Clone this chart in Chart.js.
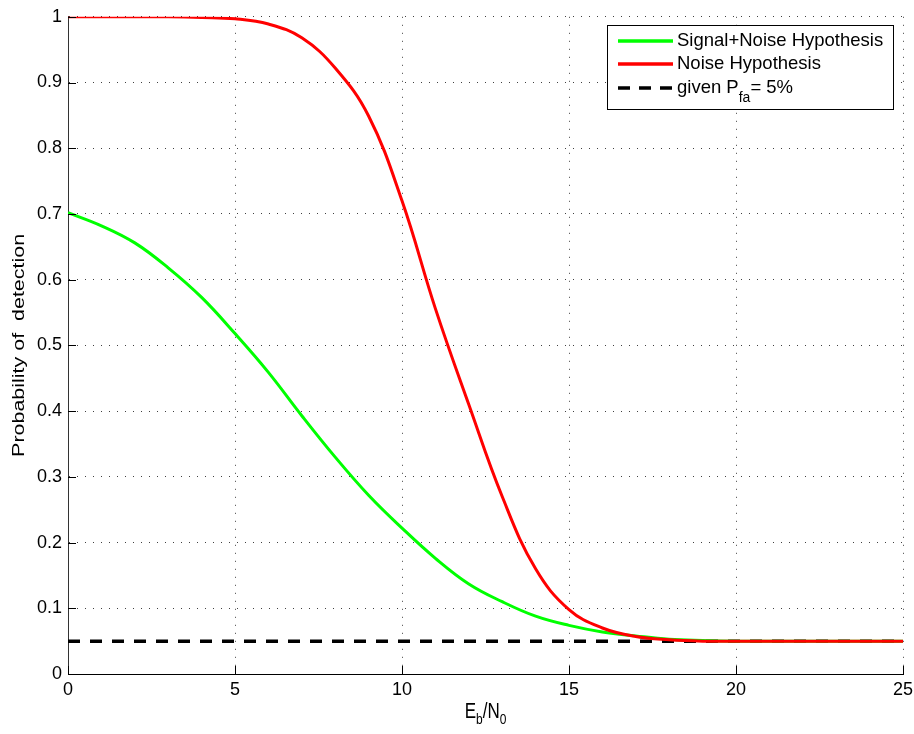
<!DOCTYPE html>
<html>
<head>
<meta charset="utf-8">
<script src="https://cdn.jsdelivr.net/npm/chart.js@4"></script>
<style>
  html, body { margin: 0; padding: 0; background: #fff; }
  #wrap { width: 914px; height: 734px; }
</style>
</head>
<body>
<div id="wrap"><canvas id="grafico" width="914" height="734"></canvas></div>
<script>
// Eb/N0 values
const ebno = [0, 1, 2, 3, 4, 5, 6, 7, 8, 9, 10, 11, 12, 13, 14, 15, 16, 17, 18, 19, 20, 21, 22, 23, 24, 25];
// probability of detection
const ruido = [1, 1, 1, 1, 0.999, 0.997, 0.989, 0.968, 0.922, 0.849, 0.72, 0.556, 0.41, 0.27, 0.16, 0.098, 0.07, 0.057, 0.052, 0.05, 0.05, 0.05, 0.05, 0.05, 0.05, 0.05];
const sinalRuido = [0.702, 0.682, 0.656, 0.618, 0.573, 0.518, 0.459, 0.393, 0.33, 0.272, 0.222, 0.176, 0.137, 0.11, 0.088, 0.074, 0.064, 0.058, 0.053, 0.051, 0.05, 0.05, 0.05, 0.05, 0.05, 0.05];
const pfa = 0.05;
const xTicks = [0, 5, 10, 15, 20, 25];
const yTicks = [0, 0.1, 0.2, 0.3, 0.4, 0.5, 0.6, 0.7, 0.8, 0.9, 1];

const fonte = "'Liberation Sans', Arial, sans-serif";

const pares = (vals) => ebno.map((x, i) => ({ x: x, y: vals[i] }));

// tick marks inside, axis titles with subscripts, legend box
const extras = {
    id: "extras",
    afterDraw(chart) {
        const ctx = chart.ctx;
        const area = chart.chartArea;
        const xs = chart.scales.x, ys = chart.scales.y;
        ctx.save();
        ctx.strokeStyle = "#000";
        ctx.lineWidth = 1;
        ctx.setLineDash([]);
        yTicks.forEach(v => {
            const y = Math.round(ys.getPixelForValue(v)) + 0.5;
            ctx.beginPath();
            ctx.moveTo(area.left, y);
            ctx.lineTo(area.left + 8, y);
            ctx.stroke();
        });
        xTicks.forEach(v => {
            const x = Math.round(xs.getPixelForValue(v)) + 0.5;
            ctx.beginPath();
            ctx.moveTo(x, area.bottom);
            ctx.lineTo(x, area.bottom - 8);
            ctx.stroke();
        });

        // y title (the picture is a bit stretched vertically)
        ctx.fillStyle = "#000";
        ctx.font = "16.5px " + fonte;
        ctx.textAlign = "center";
        ctx.textBaseline = "middle";
        ctx.save();
        ctx.translate(19, (area.top + area.bottom) / 2);
        ctx.rotate(-Math.PI / 2);
        ctx.scale(1.3, 1);
        ctx.fillText("Probability of  detection", 0, 0);
        ctx.restore();

        // x title E_b/N_0
        const partes = [["E", 17, 0], ["b", 12, 6], ["/N", 17, 0], ["0", 12, 6]];
        let largura = 0;
        partes.forEach(p => { ctx.font = p[1] + "px " + fonte; largura += ctx.measureText(p[0]).width; });
        let cx = (area.left + area.right) / 2 - largura / 2;
        ctx.textAlign = "left";
        ctx.textBaseline = "alphabetic";
        ctx.save();
        ctx.translate(0, 718);
        ctx.scale(1, 1.25);
        partes.forEach(p => {
            ctx.font = p[1] + "px " + fonte;
            ctx.fillText(p[0], cx, p[2] / 1.25);
            cx += ctx.measureText(p[0]).width;
        });
        ctx.restore();

        // legend
        ctx.fillStyle = "#fff";
        ctx.fillRect(607, 25, 286, 84);
        ctx.strokeStyle = "#000";
        ctx.strokeRect(607.5, 25.5, 286, 84);
        const linhas = [
            { cor: "#00ff00", dash: [], y: 41 },
            { cor: "#ff0000", dash: [], y: 64 },
            { cor: "#000", dash: [12, 9], y: 88 }
        ];
        linhas.forEach(l => {
            ctx.strokeStyle = l.cor;
            ctx.lineWidth = 3.5;
            ctx.setLineDash(l.dash);
            ctx.beginPath();
            ctx.moveTo(618, l.y);
            ctx.lineTo(673, l.y);
            ctx.stroke();
        });
        ctx.setLineDash([]);
        ctx.fillStyle = "#000";
        ctx.textBaseline = "middle";
        ctx.font = "18.5px " + fonte;
        ctx.fillText("Signal+Noise Hypothesis", 677, 41);
        ctx.fillText("Noise Hypothesis", 677, 64);
        let tx = 677;
        ctx.fillText("given P", tx, 88);
        tx += ctx.measureText("given P").width;
        ctx.font = "14px " + fonte;
        ctx.fillText("fa", tx, 98);
        tx += ctx.measureText("fa").width;
        ctx.font = "18.5px " + fonte;
        ctx.fillText("= 5%", tx, 88);
        ctx.restore();
    }
};

const ctx = document.getElementById("grafico").getContext("2d");
new Chart(ctx, {
    type: "line",
    data: {
        datasets: [
            {
                label: "Noise Hypothesis",
                data: pares(ruido),
                borderColor: "#ff0000",
                borderWidth: 3,
                pointRadius: 0,
                tension: 0.4
            },
            {
                label: "Signal+Noise Hypothesis",
                data: pares(sinalRuido),
                borderColor: "#00ff00",
                borderWidth: 3,
                pointRadius: 0,
                tension: 0.4
            },
            {
                label: "given Pfa = 5%",
                data: ebno.map(x => ({ x: x, y: pfa })),
                borderColor: "#000000",
                borderWidth: 3.5,
                borderDash: [12, 10],
                pointRadius: 0
            }
        ]
    },
    options: {
        responsive: false,
        animation: false,
        layout: { padding: { top: 16, right: 11, left: 0, bottom: 0 } },
        plugins: {
            legend: { display: false },
            tooltip: { enabled: false }
        },
        scales: {
            x: {
                type: "linear",
                min: 0,
                max: 25,
                afterBuildTicks: (s) => { s.ticks = xTicks.map(v => ({ value: v })); },
                afterFit: (s) => { s.height = 60; s.paddingLeft = 0; s.paddingRight = 0; },
                ticks: {
                    color: "#000",
                    font: { family: fonte, size: 18 },
                    padding: 5,
                    maxRotation: 0
                },
                grid: { color: "rgba(0,0,0,0.75)", lineWidth: 1, drawTicks: false },
                border: { display: true, color: "#000", width: 1, dash: [1, 7] }
            },
            y: {
                type: "linear",
                min: 0,
                max: 1,
                afterBuildTicks: (s) => { s.ticks = yTicks.map(v => ({ value: v })); },
                afterFit: (s) => { s.width = 68; },
                ticks: {
                    color: "#000",
                    font: { family: fonte, size: 18 },
                    padding: 6,
                    callback: (v) => String(Number(v.toFixed(1)))
                },
                grid: { color: "rgba(0,0,0,0.75)", lineWidth: 1, drawTicks: false },
                border: { display: true, color: "#333", width: 1, dash: [1, 7] }
            }
        }
    },
    plugins: [extras]
});
</script>
</body>
</html>
